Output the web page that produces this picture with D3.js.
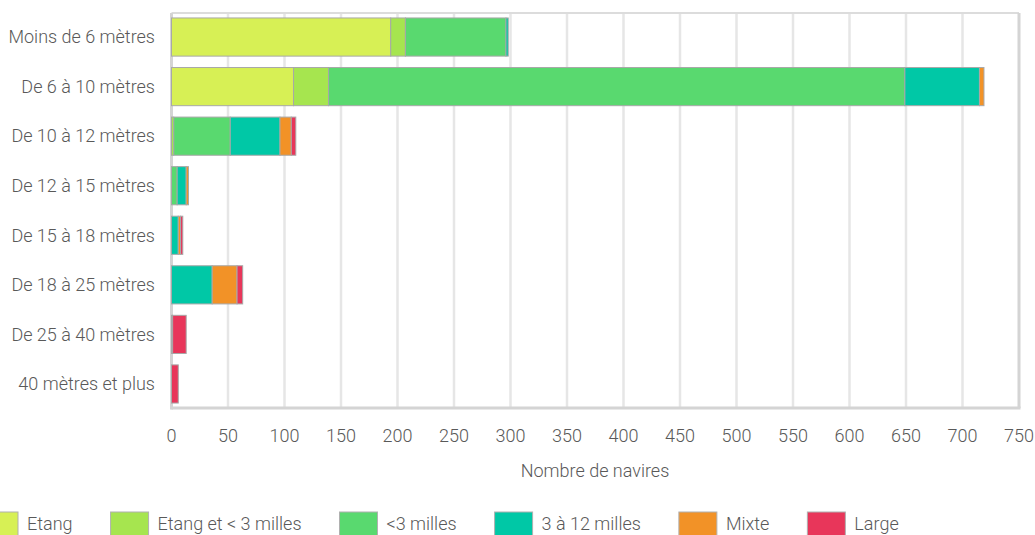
<!DOCTYPE html>
<html><head><meta charset="utf-8">
<script src="https://cdn.jsdelivr.net/npm/d3@7"></script>
<style>
body{margin:0;background:#fff;}
svg text{font-family:Roboto,"Liberation Sans",sans-serif;font-weight:300;fill:#595959;}
</style></head>
<body><svg id="c" width="1035" height="535"></svg>
<script>
const categories = ["Moins de 6 mètres","De 6 à 10 mètres","De 10 à 12 mètres","De 12 à 15 mètres","De 15 à 18 mètres","De 18 à 25 mètres","De 25 à 40 mètres","40 mètres et plus"];
const seriesNames = ["Etang","Etang et < 3 milles","<3 milles","3 à 12 milles","Mixte","Large"];
const etang      = [194,108, 0, 0, 0, 0, 0, 0];
const etangEt3   = [ 13, 31, 2, 0, 0, 0, 0, 0];
const moins3     = [ 89,510,50, 5, 0, 0, 0, 0];
const de3a12     = [  2, 66,44, 8, 6,36, 0, 0];
const mixte      = [  0,  4,10, 2, 2,22, 1, 0];
const large      = [  0,  0, 4, 0, 2, 5,12, 6];
const colors = ["#d7f055","#a6e54f","#59d96f","#00c8a6","#f29227","#e8365a"];
const xTicks = [0,50,100,150,200,250,300,350,400,450,500,550,600,650,700,750];
const xTitle = "Nombre de navires";

const svg = d3.select("#c");
const L=171.5, R=1019, T=13, B=408;
const x = d3.scaleLinear().domain([0,750]).range([L,R]);
const y = d3.scaleBand().domain(categories).range([T,B]).paddingInner(0.23).paddingOuter(0.1);

// gridlines
svg.append("g").selectAll("line").data(xTicks.slice(1,-1)).join("line")
  .attr("x1",d=>x(d)).attr("x2",d=>x(d)).attr("y1",T).attr("y2",B)
  .attr("stroke","#e6e6e6").attr("stroke-width",2.5);
// frame
svg.append("line").attr("x1",L).attr("x2",R).attr("y1",T).attr("y2",T).attr("stroke","#dcdcdc").attr("stroke-width",2);
svg.append("line").attr("x1",R).attr("x2",R).attr("y1",T).attr("y2",B).attr("stroke","#d4d4d4").attr("stroke-width",3);
svg.append("line").attr("x1",L).attr("x2",L).attr("y1",T).attr("y2",B+1.5).attr("stroke","#d4d4d4").attr("stroke-width",3);
svg.append("line").attr("x1",L).attr("x2",R+1.5).attr("y1",B).attr("y2",B).attr("stroke","#d4d4d4").attr("stroke-width",3);

const rows = categories.map((c,i)=>({cat:c, Etang:etang[i], "Etang et < 3 milles":etangEt3[i], "<3 milles":moins3[i], "3 à 12 milles":de3a12[i], Mixte:mixte[i], Large:large[i]}));
const stack = d3.stack().keys(seriesNames)(rows);
svg.append("g").selectAll("g").data(stack).join("g")
  .attr("fill",(d,i)=>colors[i])
  .selectAll("rect").data(d=>d.filter(s=>s[1]-s[0]>0)).join("rect")
  .attr("x",d=>x(d[0])).attr("width",d=>x(d[1])-x(d[0]))
  .attr("y",d=>y(d.data.cat)).attr("height",y.bandwidth())
  .attr("stroke","#a8a8a8").attr("stroke-width",1);

// y labels
svg.append("g").selectAll("text").data(categories).join("text")
  .attr("x",155).attr("y",d=>y(d)+y.bandwidth()/2).attr("dy","0.35em")
  .attr("text-anchor","end").attr("font-size",18).text(d=>d);
// x ticks
svg.append("g").selectAll("text").data(xTicks).join("text")
  .attr("x",d=>x(d)).attr("y",442).attr("text-anchor","middle").attr("font-size",18).text(d=>d);
svg.append("text").attr("x",595).attr("y",477).attr("text-anchor","middle").attr("font-size",18).text(xTitle);

// legend
let lx=-20;
seriesNames.forEach((n,i)=>{
  svg.append("rect").attr("x",lx).attr("y",512).attr("width",38).attr("height",30)
    .attr("fill",colors[i]).attr("stroke","#b0b0b0").attr("stroke-width",1);
  const t=svg.append("text").attr("x",lx+47).attr("y",530).attr("font-size",18).text(n);
  lx += 47 + t.node().getComputedTextLength() + 38;
});
</script></body></html>
